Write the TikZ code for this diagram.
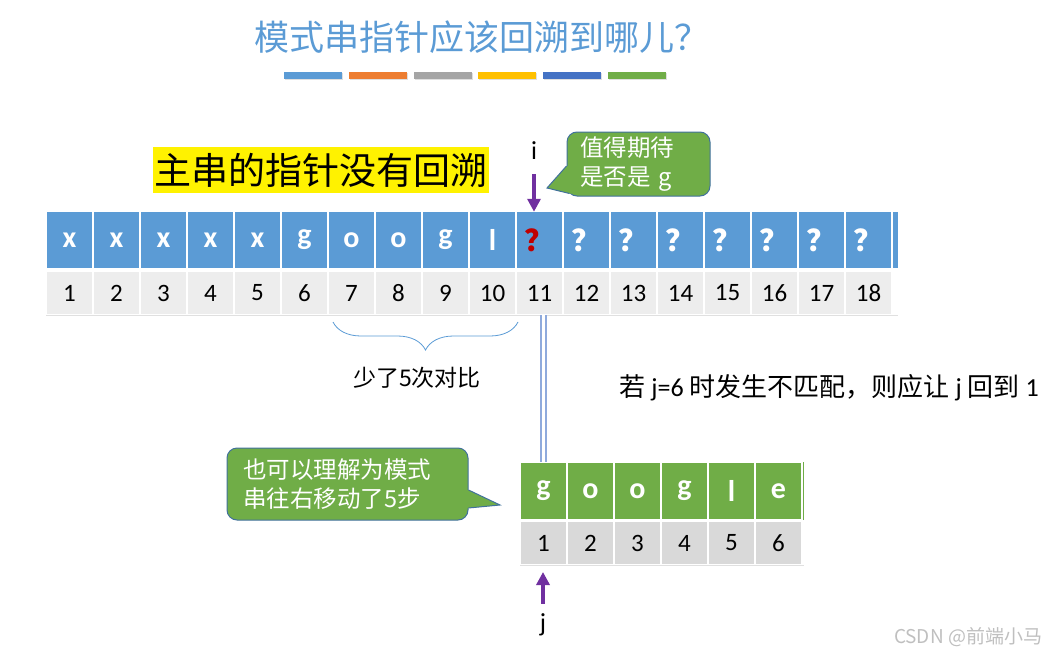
\documentclass[tikz,border=0pt]{standalone}
\usepackage{fontspec}
\setmainfont{Carlito}
\newfontfamily\cjk{Noto Sans CJK SC}
\usetikzlibrary{arrows.meta,positioning,decorations.pathreplacing,shadows}

\definecolor{cblue}{HTML}{5B9BD5}
\definecolor{corange}{HTML}{ED7D31}
\definecolor{cgray}{HTML}{A5A5A5}
\definecolor{cgold}{HTML}{FFC000}
\definecolor{cdblue}{HTML}{4472C4}
\definecolor{cgreen}{HTML}{70AD47}
\definecolor{cpurple}{HTML}{7030A0}
\definecolor{clight}{HTML}{EDEDED}
\definecolor{cmid}{HTML}{D9D9D9}
\definecolor{cred}{HTML}{C00000}
\definecolor{cedge}{HTML}{41719C}
\definecolor{cline}{HTML}{8FAADC}

\newcommand\qmark{{\cjk ？}}
\newcommand\qred{\textcolor{cred}{\qmark}}

\begin{document}
\begin{tikzpicture}[x=1pt,y=-1pt,node distance=0pt,
    cell/.style={draw=white,line width=1.3pt,outer sep=0pt,inner sep=0pt,minimum width=47pt},
    top/.style={cell,fill=cblue,minimum height=56.5pt,text=white,font=\fontsize{30}{30}\selectfont\bfseries},
    num/.style={cell,fill=clight,minimum height=43pt,font=\fontsize{25}{25}\selectfont},
    pat/.style={top,fill=cgreen,minimum height=58pt},
    pnum/.style={num,fill=cmid},
    ptr/.style={line width=4pt,draw=cpurple,-{Triangle[width=13pt,length=13pt]}},
    dline/.style={draw=cline,double=white,double distance=2.5pt,line width=2pt},
    bubble/.style={fill=cgreen,draw=cedge,line width=1pt,rounded corners=10pt,
        text=white,align=left,font=\cjk\fontsize{23.5}{29}\selectfont},
    bar/.style={minimum width=58pt,minimum height=7pt,inner sep=0pt,
        drop shadow={opacity=0.25,shadow xshift=1pt,shadow yshift=-1.5pt}},
    zh/.style={font=\cjk\fontsize{#1}{#1}\selectfont}]

\useasboundingbox (0,0) rectangle (1056,658);

\node[zh=35,text=cblue] (title) at (482,37) {模式串指针应该回溯到哪儿？};
\foreach \col [count=\k] in {cblue,corange,cgray,cgold,cdblue,cgreen}
    \node[bar,fill=\col] (bar\k) at (248.2+64.8*\k,75.5) {};

\node[zh=37,fill=yellow,minimum width=336pt,minimum height=46pt,inner sep=0pt] (main) at (321,170) {主串的指针没有回溯};

\foreach \c [count=\k] in {x,x,x,x,x,g,o,o,g,l,\qred,\qmark,\qmark,\qmark,\qmark,\qmark,\qmark,\qmark}
    \node[top] (s\k) at (22.5+47*\k,240) {\c};
\foreach \k in {1,...,18}
    \node[num] (n\k) at (22.5+47*\k,293) {\k};
\fill[cblue] ([xshift=0.7pt]s18.north east) rectangle ([xshift=6pt]s18.south east);
\draw[black!12,line width=0.8pt] ([yshift=-1pt]n1.south west) -- ([xshift=6pt,yshift=-1pt]n18.south east);

\node[font=\fontsize{26}{26}\selectfont,inner sep=0pt] (ilbl) at (534,151) {i};
\draw[ptr,shorten <=14pt] (ilbl.south) -- (ilbl.south |- s11.north);

\node[bubble,text width=117pt,inner xsep=13pt,minimum height=64pt] (hint) at (638.5,164) {值得期待\\是否是 g};
\coordinate (htip) at (547,188);
\fill[cgreen] ([shift={(0,2)}]hint.west) -- (htip) -- ([shift={(3,-3)}]hint.south west)
    -- ([shift={(8,-3)}]hint.south west) -- ([shift={(8,2)}]hint.west) -- cycle;
\draw[cedge,line width=1pt] ([shift={(0,2)}]hint.west) -- (htip) -- ([shift={(3,-3)}]hint.south west);

\coordinate (brA) at (333,322);
\coordinate (brB) at (518,322);
\draw[cblue,line width=0.8pt,decorate,decoration={brace,mirror,amplitude=28pt}] (brA) -- (brB);
\node[zh=23] (gap) at (417,378) {少了5次对比};

\node[anchor=west,font=\fontsize{26}{26}\selectfont] (rule) at (616,388)
    {{\cjk 若} j=6 {\cjk 时发生不匹配，则应让} j {\cjk 回到} 1};

\foreach \c [count=\k] in {g,o,o,g,l,e}
    \node[pat] (p\k) at (496.5+47*\k,491) {\c};
\foreach \k in {1,...,6}
    \node[pnum] (pn\k) at (496.5+47*\k,543) {\k};
\fill[cgreen] ([xshift=0.7pt]p6.north east) rectangle ([xshift=2pt]p6.south east);
\draw[black!12,line width=0.8pt] ([yshift=-1pt]pn1.south west) -- ([xshift=2pt,yshift=-1pt]pn6.south east);

\draw[dline] (p1.north) -- (p1.north |- n11.south);

\node[font=\fontsize{26}{26}\selectfont,inner sep=0pt] (jlbl) at (543,625) {j};
\draw[ptr,shorten <=10pt,shorten >=7.5pt] (jlbl.north) -- (jlbl.north |- pn1.south);

\node[bubble,text width=209pt,inner xsep=16pt,minimum height=72pt] (move) at (347.5,484) {也可以理解为模式\\串往右移动了5步};
\coordinate (mtip) at (500,505);
\fill[cgreen] ([shift={(0,6)}]move.east) -- (mtip) -- ([shift={(0,24)}]move.east)
    -- ([shift={(-6,24)}]move.east) -- ([shift={(-6,6)}]move.east) -- cycle;
\draw[cedge,line width=1pt] ([shift={(0,6)}]move.east) -- (mtip) -- ([shift={(0,24)}]move.east);

\node[zh=19,text=black!25] (mark) at (968,637) {CSDN @前端小马};
\end{tikzpicture}
\end{document}
